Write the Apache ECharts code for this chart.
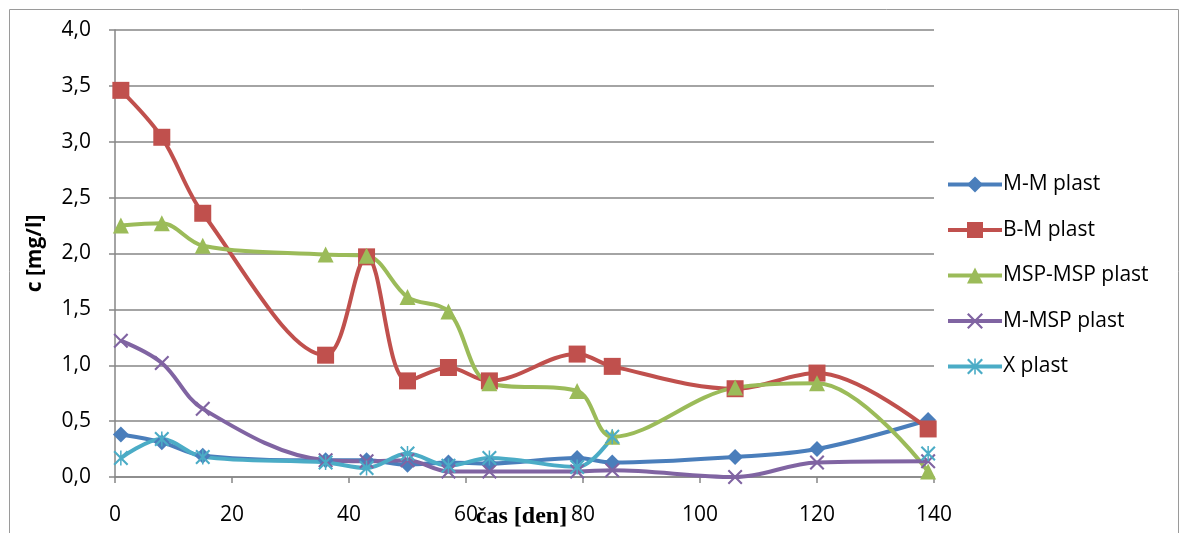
<!DOCTYPE html>
<html>
<head>
<meta charset="utf-8">
<script src="https://cdn.jsdelivr.net/npm/echarts@6/dist/echarts.min.js"></script>
<style>
  html, body { margin: 0; padding: 0; background: #fff; }
  #chart { width: 1183px; height: 533px; }
</style>
</head>
<body>
<div id="chart"></div>
<script>
// sampling days
const days = [1, 8, 15, 36, 43, 50, 57, 64, 79, 85, 106, 120, 139];

// concentration c [mg/l] per sample
const mmPlast     = [0.38, 0.31, 0.19, 0.15, 0.15, 0.11, 0.13, 0.12, 0.17, 0.13, 0.18, 0.25, 0.51];
const bmPlast     = [3.46, 3.04, 2.36, 1.09, 1.97, 0.86, 0.98, 0.86, 1.10, 0.99, 0.79, 0.93, 0.43];
const mspMspPlast = [2.25, 2.27, 2.07, 1.99, 1.98, 1.61, 1.48, 0.84, 0.77, 0.36, 0.80, 0.84, 0.05];
const mMspPlast   = [1.22, 1.02, 0.61, 0.15, 0.14, 0.15, 0.05, 0.05, 0.05, 0.06, 0.00, 0.13, 0.14];
const xPlast      = [0.17, 0.34, 0.18, 0.13, 0.08, 0.21, 0.10, 0.17, 0.09, 0.36, null, null, 0.21];

const seriesNames = ['M-M plast', 'B-M plast', 'MSP-MSP plast', 'M-MSP plast', 'X plast'];
const xTicks = { min: 0, max: 140, step: 20 };
const yTicks = { min: 0, max: 4, step: 0.5 };

const FONT = 'Open Sans';
const crossPath = 'path://M0,1 L1,0 L10,9 L9,10 Z M9,0 L10,1 L1,10 L0,9 Z';
const starPath  = 'path://M0,1 L1,0 L10,9 L9,10 Z M9,0 L10,1 L1,10 L0,9 Z M4.5,0 L5.5,0 L5.5,10 L4.5,10 Z';

function pairs(vals) {
  return days.map((d, i) => [d, vals[i]]);
}

function lineSeries(name, vals, color, symbol, size) {
  return {
    name: name,
    type: 'line',
    data: pairs(vals),
    smooth: 0.35,
    connectNulls: false,
    symbol: symbol,
    symbolSize: size,
    showAllSymbol: true,
    lineStyle: { color: color, width: 4 },
    itemStyle: { color: color },
    emphasis: { disabled: true },
    z: 2
  };
}

const chart = echarts.init(document.getElementById('chart'), null, { renderer: 'canvas' });

chart.setOption({
  animation: false,
  backgroundColor: '#ffffff',
  color: ['#4A7EBB', '#C0504D', '#9BBB59', '#8064A2', '#4BACC6'],
  grid: {
    left: 115, right: 249, top: 30, bottom: 56,
    containLabel: false,
    outerBoundsMode: 'none'
  },
  graphic: [{
    type: 'rect',
    shape: { x: 9.5, y: 9.5, width: 1169, height: 560 },
    style: { fill: 'none', stroke: '#9a9a9a', lineWidth: 1 },
    silent: true,
    z: -10
  }],
  legend: {
    orient: 'vertical',
    left: 941,
    top: 167,
    itemWidth: 54,
    itemHeight: 20,
    itemGap: 20.5,
    data: seriesNames,
    lineStyle: { width: 4 },
    textStyle: { fontFamily: FONT, fontSize: 21, lineHeight: 25, color: '#000', padding: [0, 0, 0, -4] }
  },
  xAxis: {
    type: 'value',
    min: xTicks.min,
    max: xTicks.max,
    interval: xTicks.step,
    name: 'čas [den]',
    nameLocation: 'middle',
    nameGap: 28,
    nameMoveOverlap: false,
    nameTextStyle: {
      fontFamily: 'Liberation Serif', fontWeight: 'bold', fontSize: 24, color: '#000',
      padding: [0, 6, 0, 0]
    },
    axisLine: { show: true, onZero: false, lineStyle: { color: '#868686', width: 1.5 } },
    axisTick: { show: true, length: 6, lineStyle: { color: '#868686', width: 1.5 } },
    axisLabel: { fontFamily: FONT, fontSize: 21, color: '#000', margin: 28 },
    splitLine: { show: false }
  },
  yAxis: {
    type: 'value',
    min: yTicks.min,
    max: yTicks.max,
    interval: yTicks.step,
    name: 'c [mg/l]',
    nameLocation: 'middle',
    nameRotate: 90,
    nameGap: 69,
    nameTextStyle: { fontFamily: FONT, fontWeight: 'bold', fontSize: 21, color: '#000' },
    axisLine: { show: true, lineStyle: { color: '#868686', width: 1.5 } },
    axisTick: { show: true, length: 6, lineStyle: { color: '#868686', width: 1.5 } },
    axisLabel: {
      fontFamily: FONT, fontSize: 21, color: '#000', margin: 24,
      formatter: v => v.toFixed(1).replace('.', ',')
    },
    splitLine: { show: true, lineStyle: { color: '#868686', width: 1.5 } }
  },
  series: [
    lineSeries(seriesNames[0], mmPlast, '#4A7EBB', 'diamond', 16),
    lineSeries(seriesNames[1], bmPlast, '#C0504D', 'rect', 17),
    lineSeries(seriesNames[2], mspMspPlast, '#9BBB59', 'triangle', 16),
    lineSeries(seriesNames[3], mMspPlast, '#8064A2', crossPath, 15),
    lineSeries(seriesNames[4], xPlast, '#4BACC6', starPath, 15)
  ]
});
</script>
</body>
</html>
